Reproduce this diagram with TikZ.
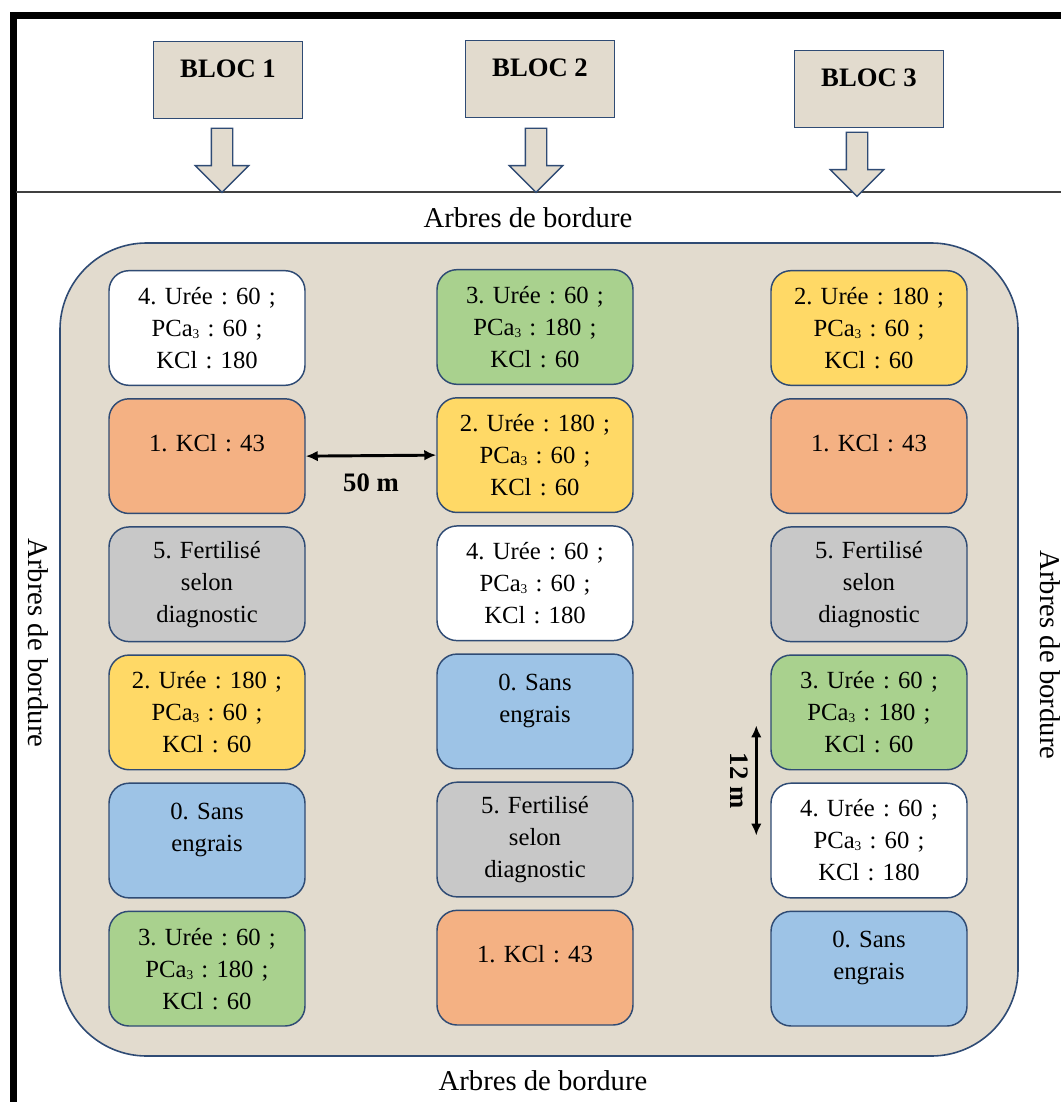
\documentclass[tikz,border=0pt]{standalone}
\usepackage{fontspec}
\setmainfont{Liberation Serif}
\usepackage{xcolor}
\usetikzlibrary{shapes.arrows, arrows.meta, positioning, calc}
\frenchspacing
\definecolor{bordcol}{RGB}{47,75,116}
\definecolor{soil}{RGB}{226,219,206}
\definecolor{porange}{RGB}{244,177,131}
\definecolor{pgrey}{RGB}{200,200,200}
\definecolor{pyellow}{RGB}{255,217,102}
\definecolor{pblue}{RGB}{157,195,230}
\definecolor{pgreen}{RGB}{169,209,142}
\newcommand{\pca}{PCa\raisebox{-1.5pt}{\fontsize{10}{10}\selectfont 3}}
\tikzset{
  parcel/.style={rectangle, rounded corners=15pt, draw=bordcol, line width=1.1pt,
                 minimum width=147pt, minimum height=86pt, text width=140pt,
                 align=center, inner sep=2pt, font=\fontsize{18.5}{24}\selectfont},
  lift/.style={text depth=20pt},
  lifttwo/.style={text depth=44pt},
  bloc/.style={rectangle, draw=bordcol, fill=soil, line width=1pt,
               minimum width=112pt, minimum height=58pt, text height=12pt,
               text depth=16pt, font=\fontsize{20}{24}\selectfont\bfseries},
  blocarrow/.style={single arrow, shape border rotate=270, draw=bordcol, fill=soil,
                    line width=1pt, minimum height=48pt, minimum width=39pt,
                    single arrow head extend=12pt, inner sep=7.5pt},
  field/.style={draw=bordcol, fill=soil, line width=1.2pt, rounded corners=65pt},
  border/.style={font=\fontsize{21.5}{24}\selectfont},
  dim/.style={{Latex[length=9pt,width=8pt]}-{Latex[length=9pt,width=8pt]}, line width=2.2pt},
  dimlabel/.style={font=\fontsize{20}{22}\selectfont\bfseries},
}
\begin{document}
\begin{tikzpicture}[x=0.75pt, y=-0.75pt, node distance=9pt]
  \useasboundingbox (0,0) rectangle (1061,1102);
  % frame
  \draw[line width=5.2pt] (13.5,1102) -- (13.5,15.5) -- (1061,15.5);
  \draw[line width=1.5pt, black!75] (16,192) -- (1061,192);

  % blocs
  \node[bloc] (bloc1) at (228,80) {BLOC 1};
  \node[bloc] (bloc2) at (540,79) {BLOC 2};
  \node[bloc] (bloc3) at (869,89) {BLOC 3};
  \node[blocarrow] (arr1) at (222,155) {};
  \node[blocarrow] (arr2) at (536,155) {};
  \node[blocarrow] (arr3) at (857,159) {};

  \node[border] (btop) at (528,218) {Arbres de bordure};
  \node[border] (bbot) at (543,1081) {Arbres de bordure};
  \node[border, rotate=-90] (bleft) at (38,643) {Arbres de bordure};
  \node[border, rotate=-90] (bright) at (1050,655) {Arbres de bordure};

  \draw[field] (60,243) rectangle (1018,1056);

  % bloc 1
  \node[parcel, fill=white] (c1a) at (207,328) {4. Urée : 60 ;\\\pca{} : 60 ;\\KCl : 180};
  \node[parcel, lift, fill=porange, below=of c1a] (c1b) {1. KCl : 43};
  \node[parcel, fill=pgrey, below=of c1b] (c1c) {5. Fertilisé\\selon\\diagnostic};
  \node[parcel, fill=pyellow, below=of c1c] (c1d) {2. Urée : 180 ;\\\pca{} : 60 ;\\KCl : 60};
  \node[parcel, lifttwo, fill=pblue, below=of c1d] (c1e) {0. Sans\\engrais};
  \node[parcel, fill=pgreen, below=of c1e] (c1f) {3. Urée : 60 ;\\\pca{} : 180 ;\\KCl : 60};

  % bloc 2
  \node[parcel, fill=pgreen] (c2a) at (535,327) {3. Urée : 60 ;\\\pca{} : 180 ;\\KCl : 60};
  \node[parcel, fill=pyellow, below=of c2a] (c2b) {2. Urée : 180 ;\\\pca{} : 60 ;\\KCl : 60};
  \node[parcel, fill=white, below=of c2b] (c2c) {4. Urée : 60 ;\\\pca{} : 60 ;\\KCl : 180};
  \node[parcel, lifttwo, fill=pblue, below=of c2c] (c2d) {0. Sans\\engrais};
  \node[parcel, fill=pgrey, below=of c2d] (c2e) {5. Fertilisé\\selon\\diagnostic};
  \node[parcel, lift, fill=porange, below=of c2e] (c2f) {1. KCl : 43};

  % bloc 3
  \node[parcel, fill=pyellow] (c3a) at (869,328) {2. Urée : 180 ;\\\pca{} : 60 ;\\KCl : 60};
  \node[parcel, lift, fill=porange, below=of c3a] (c3b) {1. KCl : 43};
  \node[parcel, fill=pgrey, below=of c3b] (c3c) {5. Fertilisé\\selon\\diagnostic};
  \node[parcel, fill=pgreen, below=of c3c] (c3d) {3. Urée : 60 ;\\\pca{} : 180 ;\\KCl : 60};
  \node[parcel, fill=white, below=of c3d] (c3e) {4. Urée : 60 ;\\\pca{} : 60 ;\\KCl : 180};
  \node[parcel, lifttwo, fill=pblue, below=of c3e] (c3f) {0. Sans\\engrais};

  % distances
  \draw[dim] (c1b.east) -- (c2b.west) node[dimlabel, midway, below=9pt] (d50) {50 m};
  \draw[dim] ($(c3d.west)+(-14,13)$) -- ($(c3e.west)+(-14,-5)$)
    node[dimlabel, midway, anchor=north, rotate=-90, inner sep=5pt] (d12) {12 m};
\end{tikzpicture}
\end{document}
